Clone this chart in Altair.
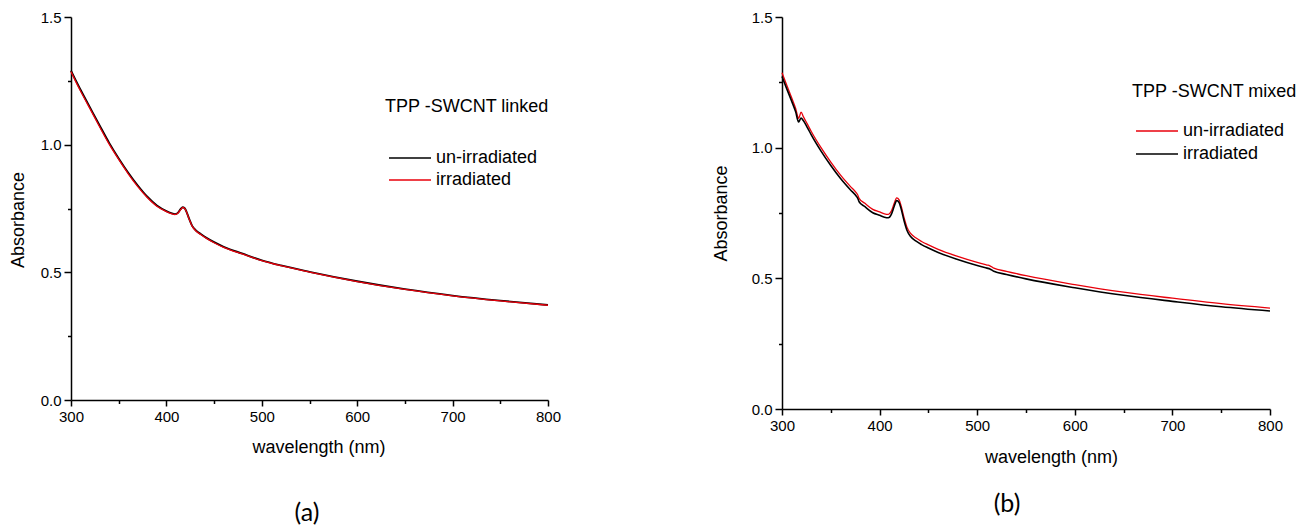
import altair as alt
import pandas as pd

# ---------------- data ----------------
wl_a = [300, 305, 310, 315, 320, 330, 340, 350, 360, 370, 380, 390, 400, 405, 409, 412, 415, 417, 419,
        421, 424, 427, 431, 436, 442, 450, 460, 480, 500, 520, 550, 600, 650, 700, 750, 800]
a_unirradiated = [1.290, 1.252, 1.215, 1.180, 1.145, 1.075, 1.007, 0.946, 0.890, 0.840, 0.796, 0.762,
                  0.740, 0.732, 0.728, 0.733, 0.748, 0.755, 0.752, 0.738, 0.708, 0.682, 0.664, 0.650,
                  0.635, 0.618, 0.600, 0.573, 0.547, 0.527, 0.502, 0.465, 0.434, 0.409, 0.389, 0.372]
a_irradiated = [1.286, 1.247, 1.210, 1.175, 1.140, 1.070, 1.002, 0.942, 0.886, 0.836, 0.793, 0.759,
                0.738, 0.730, 0.726, 0.731, 0.746, 0.754, 0.751, 0.737, 0.707, 0.681, 0.662, 0.648,
                0.633, 0.616, 0.598, 0.571, 0.546, 0.526, 0.501, 0.464, 0.433, 0.408, 0.388, 0.371]

wl_b = [300, 305, 310, 314, 317, 318, 319.5, 322, 326, 330, 340, 350, 360, 370, 376, 377.5, 379, 385,
        393, 400, 405, 409, 412, 415, 417.5, 420, 422, 425, 428, 432, 437, 443, 450, 460, 480, 500,
        510, 513, 517, 530, 550, 600, 650, 700, 750, 800]
b_unirradiated = [1.287, 1.238, 1.190, 1.150, 1.112, 1.120, 1.136, 1.118, 1.090, 1.062, 1.000, 0.945,
                  0.895, 0.852, 0.828, 0.820, 0.806, 0.787, 0.764, 0.754, 0.747, 0.745, 0.757, 0.787,
                  0.808, 0.800, 0.778, 0.733, 0.696, 0.671, 0.655, 0.641, 0.628, 0.611, 0.584, 0.561,
                  0.551, 0.548, 0.539, 0.527, 0.510, 0.476, 0.447, 0.424, 0.403, 0.386]
b_irradiated = [1.272, 1.224, 1.177, 1.137, 1.098, 1.104, 1.113, 1.103, 1.077, 1.049, 0.987, 0.932,
                0.882, 0.839, 0.815, 0.807, 0.793, 0.774, 0.751, 0.741, 0.734, 0.732, 0.745, 0.776,
                0.798, 0.790, 0.767, 0.721, 0.684, 0.659, 0.643, 0.629, 0.616, 0.599, 0.572, 0.549,
                0.539, 0.536, 0.527, 0.515, 0.498, 0.464, 0.435, 0.412, 0.391, 0.375]

series_names = ["un-irradiated", "irradiated"]
legend_labels = ["\u00a0un-irradiated", "irradiated"]
legend_titles = ["TPP -SWCNT linked", "TPP -SWCNT mixed"]
panel_labels = ["(a)", "(b)"]
x_tick_values = [300, 350, 400, 450, 500, 550, 600, 650, 700, 750, 800]
y_tick_values = [0.0, 0.25, 0.5, 0.75, 1.0, 1.25, 1.5]

FONT = "Liberation Sans"


def long_frame(wl, unirr, irr):
    return pd.DataFrame({
        "wavelength": list(wl) * 2,
        "absorbance": list(unirr) + list(irr),
        "series": [series_names[0]] * len(wl) + [series_names[1]] * len(wl),
    })


def panel(df, colors, widths, w, h, ytitle_x, ytitle_dy, xtitle_y, xtitle_dx, legend_title, leg, label_xy):
    x = alt.X(
        "wavelength:Q",
        scale=alt.Scale(domain=[300, 800], nice=False, zero=False),
        axis=alt.Axis(
            title="wavelength (nm)", values=x_tick_values, format="d", labelFlush=False,
            labelExpr="datum.value % 100 === 0 ? datum.label : ''",
            tickSize={"condition": {"test": "datum.value % 100 === 0", "value": 6}, "value": 3.5},
            labelPadding=3, titleY=xtitle_y, titleX=w / 2 + xtitle_dx, titleBaseline="middle",
        ),
    )
    y = alt.Y(
        "absorbance:Q",
        scale=alt.Scale(domain=[0, 1.5], nice=False),
        axis=alt.Axis(
            title="Absorbance", values=y_tick_values, format=".1f", labelFlush=False,
            labelExpr="datum.value % 0.5 === 0 ? datum.label : ''",
            tickSize={"condition": {"test": "datum.value % 0.5 === 0", "value": 7}, "value": 3.5},
            labelPadding=3, titleX=ytitle_x, titleY=h / 2 + ytitle_dy, titleBaseline="middle",
        ),
    )
    lines = alt.Chart(df).mark_line(interpolate="monotone").encode(
        x=x, y=y,
        color=alt.Color("series:N", scale=alt.Scale(domain=series_names, range=colors), legend=None),
        strokeWidth=alt.StrokeWidth("series:N", scale=alt.Scale(domain=series_names, range=widths), legend=None),
    )
    layers = [lines]
    # hand-made legend
    tx, ty, lx1, lx2, ly, ltx = leg
    layers.append(
        alt.Chart(pd.DataFrame({"t": [legend_title]})).mark_text(
            align="left", baseline="middle", font=FONT, fontSize=18, color="black"
        ).encode(text="t:N", x=alt.value(tx), y=alt.value(ty))
    )
    for i in range(2):
        layers.append(
            alt.Chart(pd.DataFrame({"s": [series_names[i]]})).mark_rule(
                color=colors[i], strokeWidth=1.3
            ).encode(x=alt.value(lx1), x2=alt.value(lx2), y=alt.value(ly[i]))
        )
        layers.append(
            alt.Chart(pd.DataFrame({"t": [legend_labels[i]]})).mark_text(
                align="left", baseline="middle", font=FONT, fontSize=18, color="black"
            ).encode(text="t:N", x=alt.value(ltx), y=alt.value(ly[i]))
        )
    layers.append(
        alt.Chart(pd.DataFrame({"t": [label_xy[0]]})).mark_text(
            align="center", baseline="middle", font="Lato", fontSize=25, color="black"
        ).encode(text="t:N", x=alt.value(label_xy[1]), y=alt.value(label_xy[2]))
    )
    return alt.layer(*layers).properties(width=w, height=h)


df_a = long_frame(wl_a, a_unirradiated, a_irradiated)
df_b = long_frame(wl_b, b_unirradiated, b_irradiated)

WA, HA = 477, 383
WB, HB = 488, 392

panel_a = panel(
    df_a, ["#000000", "#e8000b"], [1.9, 1.3], WA, HA,
    ytitle_x=-53, ytitle_dy=11, xtitle_y=47, xtitle_dx=9, legend_title=legend_titles[0],
    leg=(314, 90, 318, 360, [141, 163], 365),
    label_xy=(panel_labels[0], 236, 496),
)
panel_b = panel(
    df_b, ["#e8000b", "#000000"], [1.3, 1.6], WB, HB,
    ytitle_x=-61, ytitle_dy=0, xtitle_y=48, xtitle_dx=25, legend_title=legend_titles[1],
    leg=(350, 75, 354, 396, [114, 137], 401),
    label_xy=(panel_labels[1], 225, 487),
)

chart = alt.hconcat(panel_a, panel_b, spacing=234, bounds="flush").resolve_scale(
    color="independent", strokeWidth="independent"
).properties(
    padding={"left": 9, "top": 10, "right": 0, "bottom": 0}
).configure_view(stroke=None).configure_axis(
    grid=False, domainColor="black", domainWidth=1.5, tickColor="black", tickWidth=1.5,
    labelFont=FONT, labelFontSize=15, labelColor="black",
    titleFont=FONT, titleFontSize=18, titleFontWeight="normal", titleColor="black",
)

chart.save("out.html", embed_options={"renderer": "svg", "actions": False})
